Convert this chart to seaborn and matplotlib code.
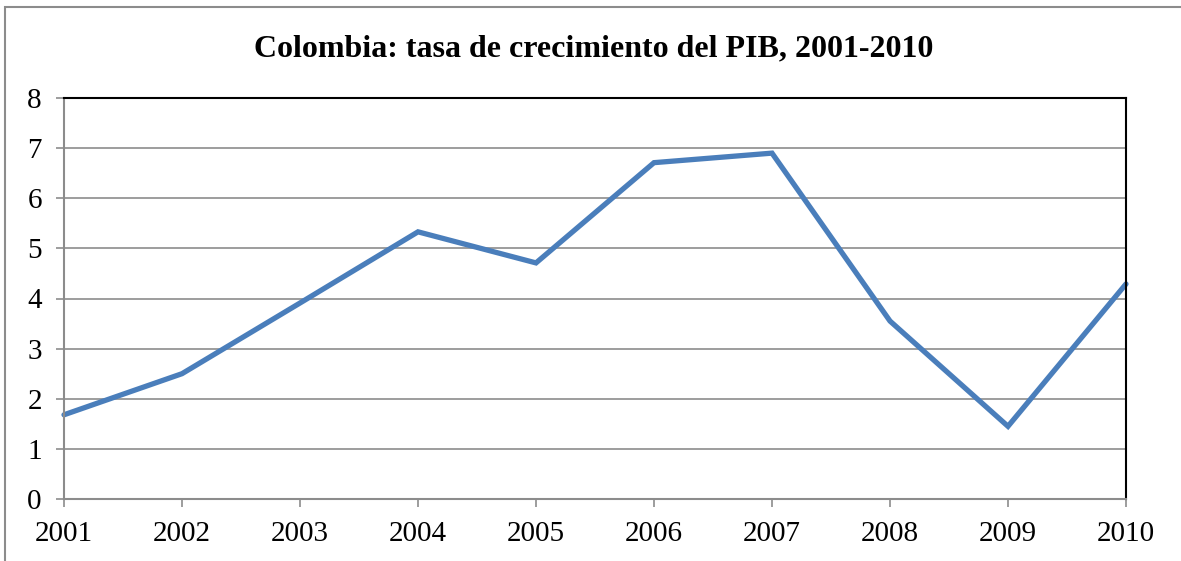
import matplotlib
matplotlib.use("Agg")
import matplotlib.pyplot as plt
import seaborn as sns
import pandas as pd
from matplotlib.patches import Rectangle

years = [2001, 2002, 2003, 2004, 2005, 2006, 2007, 2008, 2009, 2010]
growth = [1.68, 2.50, 3.91, 5.33, 4.71, 6.71, 6.90, 3.55, 1.45, 4.29]
y_ticks = [0, 1, 2, 3, 4, 5, 6, 7, 8]
title = "Colombia: tasa de crecimiento del PIB, 2001-2010"

sns.set_theme(style="white")
plt.rcParams["font.family"] = ["Liberation Serif", "DejaVu Serif"]

df = pd.DataFrame({"year": years, "growth": growth})

fig = plt.figure(figsize=(11.81, 5.61), dpi=100)
ax = fig.add_axes([64 / 1181, 62 / 561, (1126 - 64) / 1181, (499 - 98) / 561])

sns.lineplot(data=df, x="year", y="growth", ax=ax, color="#4A7EBB", linewidth=3.8,
             solid_joinstyle="miter", clip_on=False)

ax.set_xlim(years[0], years[-1])
ax.set_ylim(0, 8)
ax.set_xticks(years)
ax.set_xticklabels([str(y) for y in years])
ax.set_yticks(y_ticks)
ax.set_yticklabels([str(t) for t in y_ticks])
ax.set_xlabel("")
ax.set_ylabel("")
ax.grid(axis="y", color="#8C8C8C", linewidth=1.2)
ax.grid(axis="x", visible=False)
ax.set_axisbelow(True)

for s in ["left", "bottom"]:
    ax.spines[s].set_color("#8C8C8C")
    ax.spines[s].set_linewidth(1.5)
for s in ["top", "right"]:
    ax.spines[s].set_color("black")
    ax.spines[s].set_linewidth(1.5)
    ax.spines[s].set_visible(True)

ax.tick_params(axis="both", which="major", direction="out", length=6, width=1.2,
               color="#8C8C8C", labelsize=21, labelcolor="black")
ax.tick_params(axis="y", pad=10, left=True)
ax.tick_params(axis="x", pad=10, bottom=True)

fig.text(594 / 1181, 1 - 49 / 561, title, ha="center", va="center",
         fontsize=23, fontweight="bold", color="black")

fig.patches.append(Rectangle((5 / 1181, -0.05), 1.2, 1 - 7 / 561 + 0.05,
                             transform=fig.transFigure, fill=False,
                             edgecolor="#8C8C8C", linewidth=1.5))

fig.savefig("out.png", dpi=100)
